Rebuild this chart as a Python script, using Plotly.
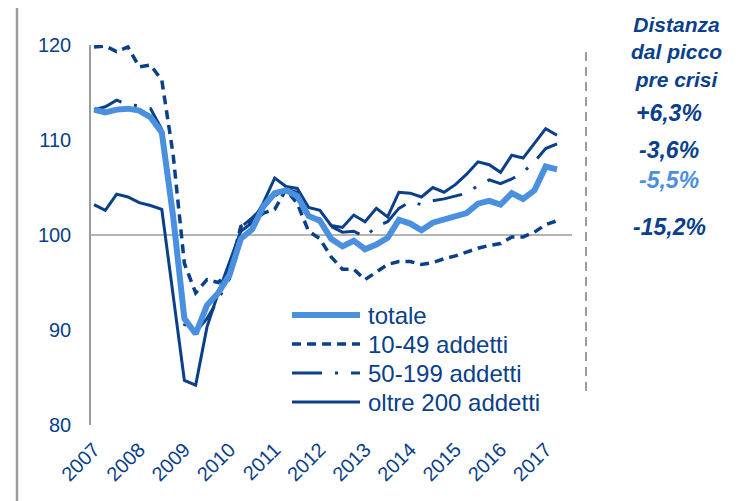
import plotly.graph_objects as go

# quarterly index, 2007 T1 .. 2017 T2
years = list(range(2007, 2018))
quarters = [f"{y} T{q}" for y in years for q in range(1, 5)][:42]
tick_vals = [f"{y} T1" for y in years]
tick_text = [str(y) for y in years]

totale = [113.2, 112.9, 113.2, 113.3, 113.1, 112.4, 110.8, 102.0, 91.2, 89.6,
          92.6, 93.9, 95.8, 99.6, 100.6, 103.0, 104.4, 104.7, 104.1, 102.0,
          101.5, 99.6, 98.8, 99.4, 98.5, 99.0, 99.7, 101.6, 101.2, 100.5,
          101.3, 101.6, 101.9, 102.3, 103.3, 103.6, 103.2, 104.4, 103.8, 104.7,
          107.2, 106.9]
addetti_10_49 = [119.8, 119.9, 119.3, 119.8, 117.7, 117.9, 116.3, 108.5, 97.0, 93.9,
                 95.3, 95.0, 96.2, 100.9, 101.4, 102.3, 102.7, 104.8, 103.3, 100.4,
                 99.6, 97.7, 96.4, 96.4, 95.3, 96.1, 96.9, 97.2, 97.2, 96.9,
                 97.1, 97.5, 97.8, 98.2, 98.6, 98.9, 99.1, 99.8, 99.8, 100.3,
                 101.1, 101.5]
addetti_50_199 = [113.2, 113.5, 114.2, 113.7, 113.6, 113.3, 111.1, 101.5, 90.6, 89.8,
                  91.2, 93.2, 95.4, 100.8, 101.8, 103.0, 104.1, 104.8, 104.5, 102.2,
                  101.7, 100.9, 100.3, 100.4, 99.8, 100.9, 101.4, 102.8, 103.5, 103.2,
                  103.6, 103.8, 104.1, 104.4, 105.2, 105.8, 105.4, 105.9, 106.6, 107.7,
                  109.1, 109.6]
oltre_200 = [103.2, 102.6, 104.3, 104.0, 103.4, 103.1, 102.7, 93.7, 84.7, 84.2,
             90.3, 93.9, 97.2, 100.4, 101.3, 103.4, 106.0, 105.1, 104.9, 102.9,
             102.6, 101.0, 100.8, 102.1, 101.4, 102.8, 101.9, 104.5, 104.4, 104.0,
             105.0, 104.5, 105.3, 106.4, 107.7, 107.4, 106.6, 108.4, 108.1, 109.7,
             111.2, 110.5]

labels_pct = ["+6,3%", "-3,6%", "-5,5%", "-15,2%"]

NAVY = "#0a3f8a"
LIGHT = "#4a90de"
GREY = "#9b9b9b"
FONT = "Liberation Sans"

series = [
    ("totale", totale, LIGHT, 6, "solid"),
    ("10-49 addetti", addetti_10_49, NAVY, 3.5, "9px,6px"),
    ("50-199 addetti", addetti_50_199, NAVY, 3, "30px,13px,3px,13px"),
    ("oltre 200 addetti", oltre_200, NAVY, 3, "solid"),
]

# plot area in window pixels: x 91..572, y 45..425 (page body has an 8px margin)
L, R, T, B = 91, 572, 45, 425
OFF = 8


def px(x):
    return (x - L) / (R - L)


def py(y):
    return (B - y) / (B - T)


fig = go.Figure()
for name, vals, col, w, dash in series[::-1]:
    fig.add_trace(go.Scatter(x=quarters, y=vals, mode="lines", name=name,
                             line=dict(color=col, width=w, dash=dash),
                             showlegend=False))

shapes = [
    dict(type="line", xref="paper", yref="y", x0=0, x1=1, y0=100, y1=100,
         line=dict(color=GREY, width=1.5), layer="below"),
    dict(type="line", xref="paper", yref="paper", x0=px(586), x1=px(586),
         y0=py(391), y1=py(50), line=dict(color=GREY, width=2, dash="9px,6px")),
    # outer frame
    dict(type="line", xref="paper", yref="paper", x0=px(17), x1=px(760),
         y0=py(6), y1=py(6), line=dict(color=GREY, width=2.5)),
    dict(type="line", xref="paper", yref="paper", x0=px(17), x1=px(17),
         y0=py(6), y1=py(510), line=dict(color=GREY, width=2.5)),
]
annotations = []

# legend drawn by hand (long line samples)
for k, (name, vals, col, w, dash) in enumerate(series):
    yy = 315 + 29 * k
    shapes.append(dict(type="line", xref="paper", yref="paper",
                       x0=px(292), x1=px(360), y0=py(yy), y1=py(yy),
                       line=dict(color=col, width=w, dash=dash)))
    annotations.append(dict(xref="paper", yref="paper", x=px(366), y=py(yy),
                            text=name, showarrow=False, xanchor="left", yanchor="middle",
                            font=dict(family=FONT, size=24, color=NAVY)))

annotations.append(dict(xref="paper", yref="paper", x=px(676), y=py(52),
                        text="<b><i>Distanza<br>dal picco<br>pre crisi</i></b>",
                        showarrow=False, xanchor="center", yanchor="middle",
                        font=dict(family=FONT, size=21, color=NAVY)))
for txt, yy, col in zip(labels_pct, [113, 150, 180, 227], [NAVY, NAVY, LIGHT, NAVY]):
    annotations.append(dict(xref="paper", yref="paper", x=px(669), y=py(yy),
                            text=f"<b><i>{txt}</i></b>", showarrow=False,
                            xanchor="center", yanchor="middle",
                            font=dict(family=FONT, size=23, color=col)))

W, H = 748 - OFF, 501 - OFF
fig.update_layout(
    width=W, height=H,
    margin=dict(l=L - OFF, r=W - (R - OFF), t=T - OFF, b=H - (B - OFF)),
    paper_bgcolor="white", plot_bgcolor="white",
    font=dict(family=FONT, color=NAVY),
    shapes=shapes, annotations=annotations,
    xaxis=dict(type="category", categoryorder="array", categoryarray=quarters,
               range=[-0.27, 42.33], tickmode="array", tickvals=tick_vals,
               ticktext=tick_text, tickangle=-45, showgrid=False, showline=False,
               zeroline=False, ticks="", ticklabelstandoff=8,
               tickfont=dict(size=20, color=NAVY)),
    yaxis=dict(range=[80, 120], tickvals=[80, 90, 100, 110, 120], showgrid=False,
               showline=True, linecolor=GREY, linewidth=1.5, zeroline=False,
               ticks="", ticklabelstandoff=14, tickfont=dict(size=20, color=NAVY)),
)

fig.write_html("out.html")
